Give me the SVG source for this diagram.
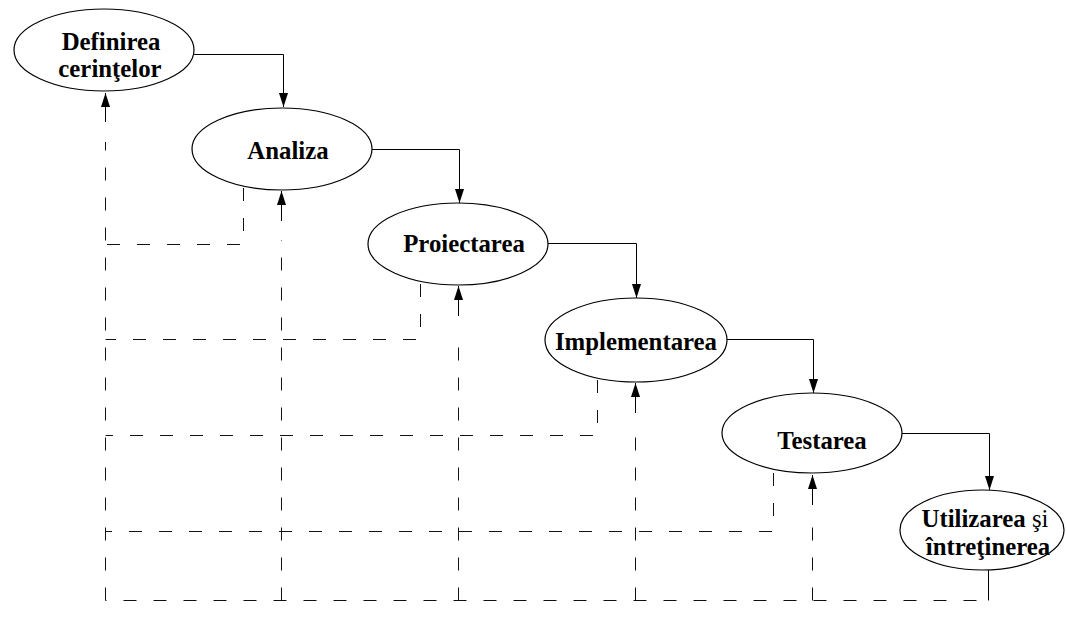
<svg xmlns="http://www.w3.org/2000/svg" width="1066" height="624" viewBox="0 0 1066 624">
<style>
.n ellipse{fill:#fff;stroke:#000;stroke-width:1.2}
.t{font-family:"Liberation Serif","Times New Roman",serif;font-size:24.8px;font-weight:bold;fill:#000;text-anchor:middle}
.r{font-weight:normal}
.solid{fill:none;stroke:#000;stroke-width:1}
.dash{fill:none;stroke:#111;stroke-width:1;stroke-dasharray:13 17}
</style>
<defs>
<marker id="ah" markerUnits="userSpaceOnUse" markerWidth="15" markerHeight="10" refX="14" refY="4.5" orient="auto">
<path d="M0,0 L14,4.5 L0,9 Z" fill="#000"/>
</marker>
</defs>
<rect width="1066" height="624" fill="#fff"/>
<g id="connectors">
<path class="solid" d="M194,54.5 H283.5 V107" marker-end="url(#ah)"/>
<path class="solid" d="M372,149.5 H459.5 V203" marker-end="url(#ah)"/>
<path class="solid" d="M548,243.5 H636.5 V298" marker-end="url(#ah)"/>
<path class="solid" d="M727,339.5 H813.5 V393" marker-end="url(#ah)"/>
<path class="solid" d="M902,433.5 H989.5 V490" marker-end="url(#ah)"/>
<path class="dash" d="M243.5,186 V244.5 H105.5" style="stroke-dashoffset:-2"/>
<path class="dash" d="M420.5,281 V339.5 H105.5" style="stroke-dashoffset:-3"/>
<path class="dash" d="M597.5,378 V435.5 H105.5" style="stroke-dashoffset:-2"/>
<path class="dash" d="M773.5,469 V531.5 H105.5" style="stroke-dashoffset:-4"/>
<path class="solid" d="M988.5,570 V600.5"/>
<path class="dash" d="M988.5,600.5 H105.5" style="stroke-dashoffset:-12"/>
<path class="dash" d="M105.5,600.5 V142"/>
<path class="solid" d="M105.5,122 V93" marker-end="url(#ah)"/>
<path class="dash" d="M281.5,600.5 V240"/>
<path class="solid" d="M281.5,221 V191" marker-end="url(#ah)"/>
<path class="dash" d="M458.5,600.5 V336"/>
<path class="solid" d="M458.5,316 V286" marker-end="url(#ah)"/>
<path class="dash" d="M635.5,600.5 V433"/>
<path class="solid" d="M635.5,413 V383" marker-end="url(#ah)"/>
<path class="dash" d="M812.5,600.5 V525"/>
<path class="solid" d="M812.5,505 V475" marker-end="url(#ah)"/>
</g>
<g id="n1" class="n"><ellipse cx="104" cy="50" rx="90" ry="41"/><text class="t" x="111" y="50">Definirea</text><text class="t" x="110" y="77">cerinţelor</text></g>
<g id="n2" class="n"><ellipse cx="282" cy="149" rx="90" ry="41"/><text class="t" x="288" y="159">Analiza</text></g>
<g id="n3" class="n"><ellipse cx="458" cy="244" rx="90" ry="41"/><text class="t" x="464" y="252">Proiectarea</text></g>
<g id="n4" class="n"><ellipse cx="636" cy="340" rx="91" ry="42"/><text class="t" x="636" y="350">Implementarea</text></g>
<g id="n5" class="n"><ellipse cx="812" cy="433" rx="90" ry="40"/><text class="t" x="822" y="449">Testarea</text></g>
<g id="n6" class="n"><ellipse cx="982" cy="530" rx="82" ry="40"/><text class="t" x="985" y="527">Utilizarea <tspan class="r">şi</tspan></text><text class="t" x="988" y="555">întreţinerea</text></g>
</svg>
